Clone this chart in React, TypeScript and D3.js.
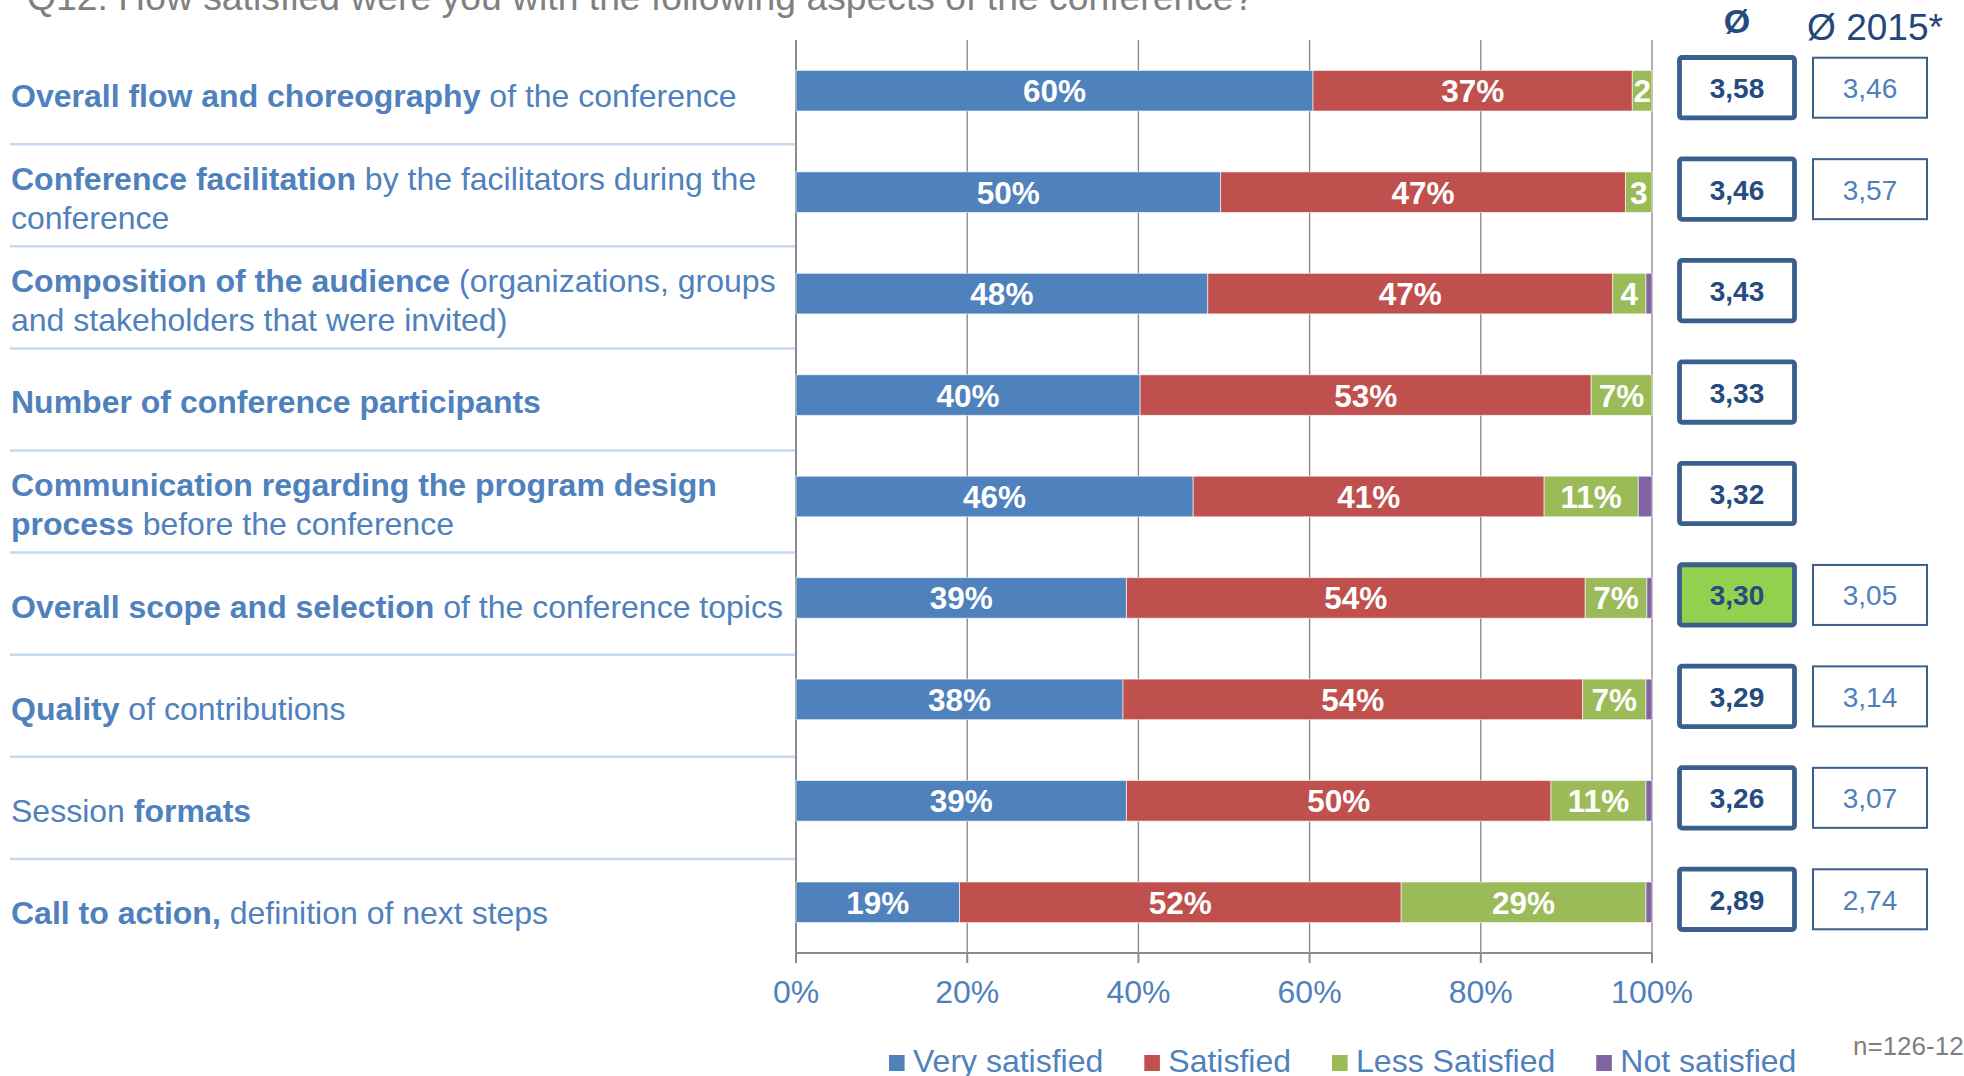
import React, { useEffect, useRef } from 'react';
import * as d3 from 'd3';

// ---------- DATA ----------
const titleText = 'Q12: How satisfied were you with the following aspects of the conference?';

// each category: lines -> segments [text, bold]
const categoryLabels: [string, boolean][][][] = [
  [[['Overall flow and choreography', true], [' of the conference', false]]],
  [[['Conference facilitation', true], [' by the facilitators during the', false]], [['conference', false]]],
  [[['Composition of the audience', true], [' (organizations, groups', false]], [['and stakeholders that were invited)', false]]],
  [[['Number of conference participants', true]]],
  [[['Communication regarding the program design', true]], [['process', true], [' before the conference', false]]],
  [[['Overall scope and selection', true], [' of the conference topics', false]]],
  [[['Quality', true], [' of contributions', false]]],
  [[['Session ', false], ['formats', true]]],
  [[['Call to action,', true], [' definition of next steps', false]]],
];

const seriesNames = ['Very satisfied', 'Satisfied', 'Less Satisfied', 'Not satisfied'];
const verySatisfied = [60.4, 49.6, 48.1, 40.2, 46.4, 38.6, 38.2, 38.6, 19.1];
const satisfied = [37.3, 47.3, 47.3, 52.7, 41.0, 53.6, 53.7, 49.6, 51.6];
const lessSatisfied = [2.3, 3.1, 3.9, 7.1, 11.0, 7.2, 7.4, 11.1, 28.6];
const notSatisfied = [0, 0, 0.7, 0, 1.6, 0.6, 0.7, 0.7, 0.7];

const average = [3.58, 3.46, 3.43, 3.33, 3.32, 3.30, 3.29, 3.26, 2.89];
const average2015: (number | null)[] = [3.46, 3.57, null, null, null, 3.05, 3.14, 3.07, 2.74];
const highlightedAverage = [false, false, false, false, false, true, false, false, false];

const xTicks = [0, 20, 40, 60, 80, 100];
const sampleNote = 'n=126-129';
const avgHeader = 'Ø';
const avg2015Header = 'Ø 2015*';

// ---------- STYLE ----------
const W = 1964;
const H = 1076;
const FONT = '"Liberation Sans", Arial, Helvetica, sans-serif';
const colors = ['#4F81BD', '#C0504D', '#9BBB59', '#8064A2'];
const labelBlue = '#4F81BD';
const boxBorder = '#3A5F8C';
const boxText = '#264B7E';

export default function App() {
  const ref = useRef<SVGSVGElement>(null);

  useEffect(() => {
    const svg = d3.select(ref.current);
    svg.selectAll('*').remove();

    const plotLeft = 796;
    const plotRight = 1652;
    const plotTop = 40;
    const plotBottom = 953;

    const idx = d3.range(categoryLabels.length);
    const x = d3.scaleLinear().domain([0, 100]).range([plotLeft, plotRight]);
    const y = d3.scaleBand<number>().domain(idx).range([plotTop, plotBottom]).paddingInner(0.6).paddingOuter(0.3);
    const yLabel = d3.scaleBand<number>().domain(idx).range([44.6, 963.5]);

    const series = [verySatisfied, satisfied, lessSatisfied, notSatisfied];
    const rows = idx.map((i) => {
      const vals = series.map((s) => s[i]);
      const stackData: { i: number; s: number; x0: number; x1: number; v: number }[] = [];
      let acc = 0;
      vals.forEach((v, s) => {
        stackData.push({ i, s, x0: acc, x1: acc + v, v });
        acc += v;
      });
      return stackData;
    });

    // title
    svg.append('text')
      .attr('x', 27).attr('y', 10)
      .attr('font-family', FONT).attr('font-size', 37.3)
      .attr('fill', '#808080')
      .text(titleText);

    // separators in label column
    const sep = svg.append('g');
    idx.slice(1).forEach((i) => {
      const yy = yLabel(i)! - 2.5;
      sep.append('line')
        .attr('x1', 10).attr('x2', plotLeft)
        .attr('y1', yy).attr('y2', yy)
        .attr('stroke', '#C6D9F1').attr('stroke-width', 2.5);
    });

    // gridlines
    const grid = svg.append('g');
    xTicks.forEach((t) => {
      grid.append('line')
        .attr('x1', x(t)).attr('x2', x(t))
        .attr('y1', plotTop).attr('y2', t === 0 || t === 100 ? plotBottom + 10 : plotBottom)
        .attr('stroke', '#8C8C8C').attr('stroke-width', t === 0 ? 2 : 1.4);
    });

    // bars
    const barG = svg.append('g');
    rows.forEach((row) => {
      row.forEach((d) => {
        if (d.v <= 0) return;
        barG.append('rect')
          .attr('x', x(d.x0)).attr('y', y(d.i)!)
          .attr('width', x(d.x1) - x(d.x0)).attr('height', y.bandwidth())
          .attr('fill', colors[d.s])
          .attr('stroke', '#ffffff').attr('stroke-opacity', 0.6).attr('stroke-width', 1);
      });
      row.forEach((d) => {
        if (d.v < 2) return;
        const r = Math.round(d.v);
        const label = d.v >= 6 ? `${r}%` : `${r}`;
        barG.append('text')
          .attr('x', (x(d.x0) + x(d.x1)) / 2)
          .attr('y', y(d.i)! + y.bandwidth() / 2 + 11.5)
          .attr('text-anchor', 'middle')
          .attr('font-family', FONT).attr('font-weight', 'bold').attr('font-size', 31.5)
          .attr('fill', '#ffffff')
          .text(label);
      });
    });

    // x axis
    const axisG = svg.append('g');
    axisG.append('line')
      .attr('x1', plotLeft).attr('x2', plotRight)
      .attr('y1', plotBottom).attr('y2', plotBottom)
      .attr('stroke', '#8C8C8C').attr('stroke-width', 2);
    xTicks.forEach((t) => {
      axisG.append('line')
        .attr('x1', x(t)).attr('x2', x(t))
        .attr('y1', plotBottom).attr('y2', plotBottom + 10)
        .attr('stroke', '#8C8C8C').attr('stroke-width', 2);
      axisG.append('text')
        .attr('x', x(t)).attr('y', 1003)
        .attr('text-anchor', 'middle')
        .attr('font-family', FONT).attr('font-size', 32)
        .attr('fill', labelBlue)
        .text(`${t}%`);
    });

    // category labels
    const labG = svg.append('g');
    categoryLabels.forEach((lines, i) => {
      const c = yLabel(i)! + yLabel.bandwidth() / 2;
      const n = lines.length;
      lines.forEach((segs, j) => {
        const t = labG.append('text')
          .attr('x', 11)
          .attr('y', c + 11.5 + (j - (n - 1) / 2) * 39)
          .attr('font-family', FONT).attr('font-size', 32)
          .attr('fill', labelBlue)
          .attr('xml:space', 'preserve')
          .style('white-space', 'pre');
        segs.forEach(([txt, bold]) => {
          t.append('tspan').attr('font-weight', bold ? 'bold' : 'normal').text(txt);
        });
      });
    });

    // average headers
    svg.append('text')
      .attr('x', 1737).attr('y', 33)
      .attr('text-anchor', 'middle')
      .attr('font-family', FONT).attr('font-weight', 'bold').attr('font-size', 34)
      .attr('fill', boxText)
      .text(avgHeader);
    svg.append('text')
      .attr('x', 1875).attr('y', 40)
      .attr('text-anchor', 'middle')
      .attr('font-family', FONT).attr('font-size', 37)
      .attr('fill', '#24477A')
      .text(avg2015Header);

    const fmt = (v: number) => d3.format('.2f')(v).replace('.', ',');

    // average boxes
    const boxG = svg.append('g');
    idx.forEach((i) => {
      const c = y(i)! + y.bandwidth() / 2 - 3;
      boxG.append('rect')
        .attr('x', 1679.5).attr('y', c - 30.2)
        .attr('width', 115).attr('height', 60.4)
        .attr('rx', 2.5)
        .attr('fill', highlightedAverage[i] ? '#92D050' : '#ffffff')
        .attr('stroke', boxBorder).attr('stroke-width', 4.8);
      boxG.append('text')
        .attr('x', 1737).attr('y', c + 10.5)
        .attr('text-anchor', 'middle')
        .attr('font-family', FONT).attr('font-weight', 'bold').attr('font-size', 28)
        .attr('fill', boxText)
        .text(fmt(average[i]));
      const prev = average2015[i];
      if (prev != null) {
        boxG.append('rect')
          .attr('x', 1813).attr('y', c - 30)
          .attr('width', 114).attr('height', 60)
          .attr('fill', '#ffffff')
          .attr('stroke', boxBorder).attr('stroke-width', 2);
        boxG.append('text')
          .attr('x', 1870).attr('y', c + 10.5)
          .attr('text-anchor', 'middle')
          .attr('font-family', FONT).attr('font-size', 28)
          .attr('fill', labelBlue)
          .text(fmt(prev));
      }
    });

    // legend
    const legG = svg.append('g');
    let lx = 889;
    seriesNames.forEach((name, s) => {
      legG.append('rect')
        .attr('x', lx).attr('y', 1055)
        .attr('width', 15.6).attr('height', 16)
        .attr('fill', colors[s]);
      const t = legG.append('text')
        .attr('x', lx + 24).attr('y', 1072)
        .attr('font-family', FONT).attr('font-size', 32)
        .attr('fill', labelBlue)
        .text(name);
      const w = (t.node() as SVGTextElement).getComputedTextLength();
      lx = lx + 24 + w + 41;
    });

    svg.append('text')
      .attr('x', 1853).attr('y', 1055)
      .attr('font-family', FONT).attr('font-size', 26)
      .attr('fill', '#7F7F7F')
      .text(sampleNote);
  }, []);

  return (
    <svg
      ref={ref}
      width={W}
      height={H}
      style={{ position: 'absolute', left: 0, top: 0, display: 'block', background: '#ffffff' }}
    />
  );
}
